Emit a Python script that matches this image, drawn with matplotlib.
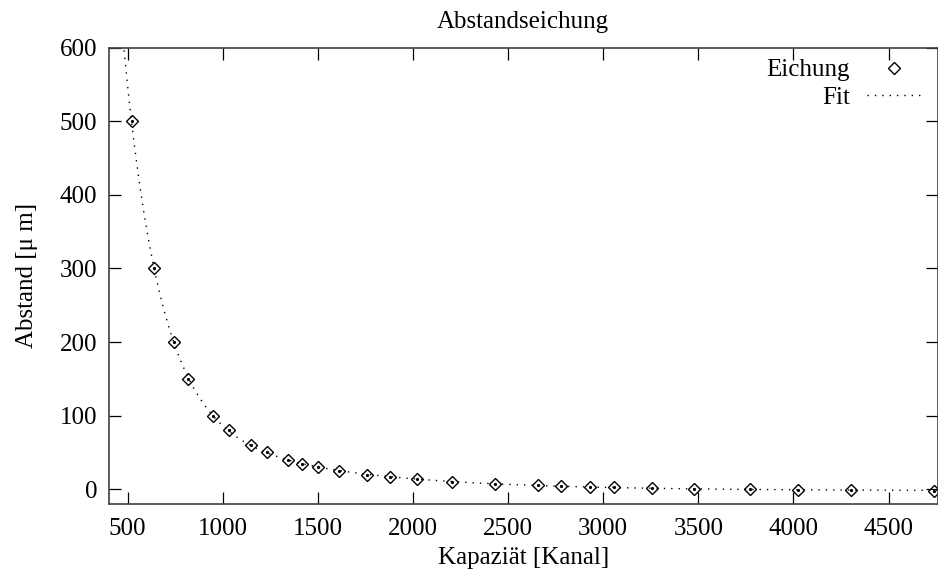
import matplotlib
matplotlib.use("Agg")
import matplotlib.pyplot as plt
import numpy as np

plt.rcParams['font.family'] = ['Liberation Serif', 'DejaVu Serif']

kanal = np.array([521, 639, 746, 820, 951, 1032, 1147, 1232, 1344, 1416, 1502,
                  1614, 1760, 1879, 2021, 2204, 2432, 2659, 2777, 2930, 3058,
                  3255, 3479, 3772, 4026, 4302, 4740])
abstand = np.array([500, 300, 200, 150, 100, 80, 60, 50, 40, 35, 30,
                    25, 20, 17, 13.5, 10.5, 7.5, 5.5, 4.5, 3.5, 2.5,
                    1.5, 0.8, 0.0, -0.5, -1.4, -2.7])

title = "Abstandseichung"
xlabel = "Kapaziät [Kanal]"
ylabel = "Abstand [μ m]"
xticks = [500, 1000, 1500, 2000, 2500, 3000, 3500, 4000, 4500]
yticks = [0, 100, 200, 300, 400, 500, 600]

# Fit: a*exp(-x/t1) + b*exp(-x/t2) + c, Zeitkonstanten per Gitter
w = 1.0 / np.sqrt(np.abs(abstand) + 5.0)
w[:2] *= 4
best = None
for t1 in np.linspace(20, 400, 77):
    for t2 in np.linspace(200, 3000, 57):
        if t2 <= t1:
            continue
        A = np.column_stack([np.exp(-kanal / t1), np.exp(-kanal / t2),
                             np.ones(len(kanal))])
        coef, *_ = np.linalg.lstsq(A * w[:, None], abstand * w, rcond=None)
        res = np.sum(((A @ coef) - abstand) ** 2 * w ** 2)
        if best is None or res < best[0]:
            best = (res, t1, t2, coef)
_, t1, t2, coef = best

xf = np.linspace(400, 4760, 800)
yf = coef[0] * np.exp(-xf / t1) + coef[1] * np.exp(-xf / t2) + coef[2]

fig = plt.figure(figsize=(9.38, 5.71), dpi=100)
ax = fig.add_axes([0.1157, 0.1173, 0.8843, 0.7995])

fs = 18
ax.plot(kanal, abstand, linestyle='none', marker='D', ms=6.6, mfc='none',
        mec='black', mew=1.0, label='Eichung')
ax.plot(kanal, abstand, linestyle='none', marker='o', ms=1.3, color='black')
ax.plot(xf, yf, color='black', lw=1.0, linestyle=(0, (1, 4.3)), label='Fit')

ax.set_xlim(400, 4760)
ax.set_ylim(-20, 600)
ax.set_xticks(xticks)
ax.set_yticks(yticks)
ax.tick_params(direction='in', length=8.5, width=0.9, top=True, right=True,
               labelsize=fs, colors='black')
ax.tick_params(axis='x', pad=10)
ax.tick_params(axis='y', pad=8)
for s in ax.spines.values():
    s.set_color('#404040')
    s.set_linewidth(1.2)

ax.set_title(title, fontsize=fs, pad=14)
ax.set_xlabel(xlabel, fontsize=fs, labelpad=5)
ax.set_ylabel(ylabel, fontsize=fs, labelpad=16)

h, l = ax.get_legend_handles_labels()
ax.legend(h, l, loc='upper right', bbox_to_anchor=(0.978, 0.975), frameon=False,
          markerfirst=False, fontsize=fs, handlelength=2.1, handletextpad=0.7,
          labelspacing=0.2, borderaxespad=0, borderpad=0)

fig.savefig('out.png', dpi=100)
